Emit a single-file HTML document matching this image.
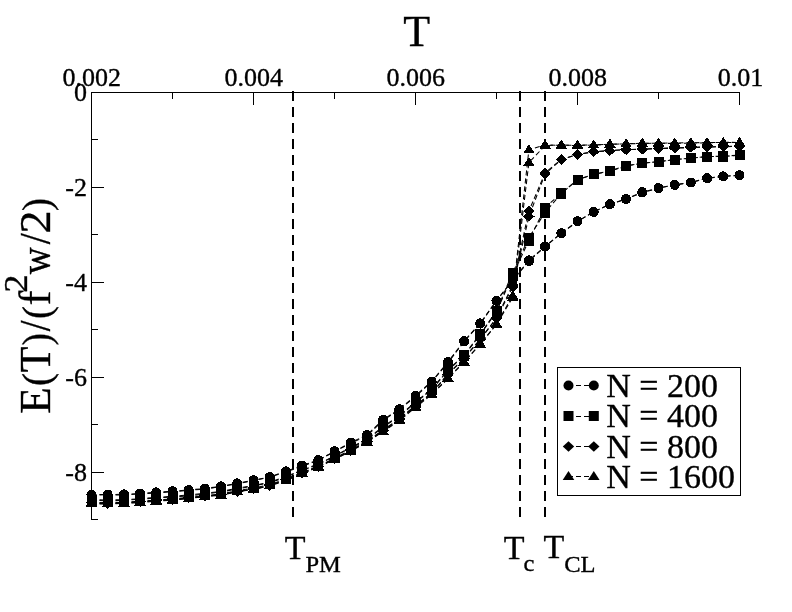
<!DOCTYPE html>
<html><head><meta charset="utf-8"><title>E(T)</title>
<style>html,body{margin:0;padding:0;background:#fff}svg{display:block;filter:grayscale(1)}text{font-family:"Liberation Serif",serif;fill:#000;stroke:#000;stroke-width:0.35px}</style></head><body>
<svg width="792" height="612" viewBox="0 0 792 612">
<rect x="0" y="0" width="792" height="612" fill="#fff"/>
<g stroke="#000" stroke-width="2" stroke-dasharray="10 6" fill="none" shape-rendering="crispEdges">
<line x1="293" y1="91" x2="293" y2="517"/>
<line x1="520" y1="91" x2="520" y2="517"/>
<line x1="545" y1="91" x2="545" y2="517"/>
</g>
<g stroke="#000" stroke-width="1.05" stroke-dasharray="5 3" fill="none">
<polyline points="91.5,494.5 107.7,494.5 123.9,494.3 140.1,493.5 156.3,492.3 172.5,491.3 188.7,490 204.9,488.5 221.1,486.3 237.3,483.3 253.5,480.3 269.7,477 285.9,471.3 302.1,465.5 318.3,460 334.5,451.3 350.7,442.5 366.9,435 383.1,419.7 399.3,409.2 415.5,395.6 431.7,381.5 447.9,362 464.1,341 480.3,323.3 496.5,300.5 512.7,280 528.9,260.3 545.1,246.3 561.3,233.2 577.5,221.3 593.7,211.9 609.9,204.2 626.1,199.2 642.3,192.5 658.5,188.3 674.7,184.7 690.9,182.5 707.1,178.3 723.3,176.3 739.5,175.3"/>
<polyline points="91.5,494.96 107.7,494.82 123.9,495.02 140.1,493.76 156.3,492.93 172.5,491.79 188.7,490.25 204.9,489.11 221.1,486.53 237.3,483.85 253.5,480.56 269.7,477.27 285.9,471.84 302.1,466.36 318.3,460.3 334.5,451.68 350.7,443.2 366.9,435.96 383.1,420.36 399.3,409.72 415.5,396.58 431.7,381.74 447.9,362.89 464.1,341.43 480.3,323.62 496.5,300.79 512.7,280.45 528.9,261.15 545.1,246.64 561.3,233.32 577.5,221.48 593.7,211.84 609.9,204.29 626.1,198.86 642.3,192.15 658.5,188.09 674.7,184.91 690.9,182.48 707.1,178.18 723.3,176.43 739.5,175.31"/>
<polyline points="91.5,499.72 107.7,500.02 123.9,499.64 140.1,498.78 156.3,497.34 172.5,496.4 188.7,494.92 204.9,493.3 221.1,491.4 237.3,488.22 253.5,485.52 269.7,482.16 285.9,476.4 302.1,470.12 318.3,464.02 334.5,455.92 350.7,447.42 366.9,439.08 383.1,426.6 399.3,415.56 415.5,402.14 431.7,389 447.9,370 464.1,355 480.3,334 496.5,311 512.7,272.5 528.9,237.5 545.1,212.5 561.3,193.5 577.5,179.6 593.7,174.2 609.9,170.8 626.1,165.8 642.3,163.3 658.5,161.7 674.7,159.5 690.9,158.3 707.1,156.5 723.3,156.5 739.5,155.3"/>
<polyline points="91.5,500.16 107.7,500.86 123.9,500.4 140.1,499.18 156.3,498 172.5,497.02 188.7,495.82 204.9,494.08 221.1,491.83 237.3,489.2 253.5,485.81 269.7,482.69 285.9,477.21 302.1,470.44 318.3,464.61 334.5,456.15 350.7,448.15 366.9,439.89 383.1,427.26 399.3,416.46 415.5,402.59 431.7,389.76 447.9,370.68 464.1,355.66 480.3,334.56 496.5,311.87 512.7,275 528.9,240.5 545.1,207.5 561.3,193.15 577.5,179.83 593.7,174.38 609.9,171.29 626.1,166.14 642.3,163.16 658.5,161.65 674.7,159.7 690.9,157.92 707.1,156.52 723.3,156.25 739.5,155.01"/>
<polyline points="91.5,502.33 107.7,502.78 123.9,502.31 140.1,501.42 156.3,499.86 172.5,498.95 188.7,497.38 204.9,495.7 221.1,493.95 237.3,490.68 253.5,488.13 269.7,484.74 285.9,478.95 302.1,472.43 318.3,466.03 334.5,458.23 350.7,449.88 366.9,441.12 383.1,430.05 399.3,418.74 415.5,405.41 431.7,392.75 447.9,374 464.1,358 480.3,339 496.5,318 512.7,285 528.9,211 545.1,172.8 561.3,159.4 577.5,154.4 593.7,151.7 609.9,150.5 626.1,149.8 642.3,149 658.5,148.3 674.7,147.8 690.9,147.3 707.1,147 723.3,146.7 739.5,146.3"/>
<polyline points="91.5,502.58 107.7,503.59 123.9,502.61 140.1,501.82 156.3,500.37 172.5,499.85 188.7,497.64 204.9,496.26 221.1,494.59 237.3,491.59 253.5,488.99 269.7,485.63 285.9,479.37 302.1,472.96 318.3,466.52 334.5,459.14 350.7,450.85 366.9,441.44 383.1,430.39 399.3,419.13 415.5,405.8 431.7,393.34 447.9,374.67 464.1,358.41 480.3,339.2 496.5,318.54 512.7,287 528.9,216.5 545.1,174 561.3,159.62 577.5,154.46 593.7,151.86 609.9,150.71 626.1,149.45 642.3,149.41 658.5,148.6 674.7,148.19 690.9,147.62 707.1,146.95 723.3,146.66 739.5,145.99"/>
<polyline points="91.5,503.2 107.7,503.7 123.9,503.2 140.1,502.3 156.3,500.7 172.5,499.8 188.7,498.2 204.9,496.5 221.1,494.8 237.3,491.5 253.5,489 269.7,485.6 285.9,479.8 302.1,473.2 318.3,466.7 334.5,459 350.7,450.7 366.9,441.8 383.1,431.2 399.3,419.8 415.5,406.5 431.7,394 447.9,378.2 464.1,361.8 480.3,344 496.5,324 512.7,295.7 528.9,149.8 545.1,144.9 561.3,145.4 577.5,145.2 593.7,144.9 609.9,144.4 626.1,143.8 642.3,143.5 658.5,143.2 674.7,143 690.9,142.7 707.1,142.6 723.3,142.5 739.5,142.5"/>
<polyline points="91.5,503.91 107.7,503.95 123.9,503.45 140.1,502.67 156.3,501.03 172.5,500.27 188.7,498.44 204.9,496.7 221.1,495.12 237.3,491.78 253.5,489.49 269.7,485.82 285.9,480.7 302.1,473.89 318.3,467.02 334.5,459.4 350.7,451.18 366.9,442.29 383.1,431.5 399.3,420.68 415.5,407.49 431.7,394.57 447.9,378.79 464.1,362.07 480.3,344.28 496.5,324.47 512.7,297.5 528.9,162.5 545.1,145.6 561.3,145.02 577.5,145.66 593.7,144.98 609.9,144.13 626.1,143.89 642.3,143.12 658.5,143.28 674.7,143.48 690.9,143.08 707.1,142.83 723.3,142.34 739.5,142.43"/>
</g>
<g fill="#000" stroke="none" shape-rendering="crispEdges">
<circle cx="91.5" cy="494.5" r="5"/>
<circle cx="107.7" cy="494.5" r="5"/>
<circle cx="123.9" cy="494.3" r="5"/>
<circle cx="140.1" cy="493.5" r="5"/>
<circle cx="156.3" cy="492.3" r="5"/>
<circle cx="172.5" cy="491.3" r="5"/>
<circle cx="188.7" cy="490" r="5"/>
<circle cx="204.9" cy="488.5" r="5"/>
<circle cx="221.1" cy="486.3" r="5"/>
<circle cx="237.3" cy="483.3" r="5"/>
<circle cx="253.5" cy="480.3" r="5"/>
<circle cx="269.7" cy="477" r="5"/>
<circle cx="285.9" cy="471.3" r="5"/>
<circle cx="302.1" cy="465.5" r="5"/>
<circle cx="318.3" cy="460" r="5"/>
<circle cx="334.5" cy="451.3" r="5"/>
<circle cx="350.7" cy="442.5" r="5"/>
<circle cx="366.9" cy="435" r="5"/>
<circle cx="383.1" cy="419.7" r="5"/>
<circle cx="399.3" cy="409.2" r="5"/>
<circle cx="415.5" cy="395.6" r="5"/>
<circle cx="431.7" cy="381.5" r="5"/>
<circle cx="447.9" cy="362" r="5"/>
<circle cx="464.1" cy="341" r="5"/>
<circle cx="480.3" cy="323.3" r="5"/>
<circle cx="496.5" cy="300.5" r="5"/>
<circle cx="512.7" cy="280" r="5"/>
<circle cx="528.9" cy="260.3" r="5"/>
<circle cx="545.1" cy="246.3" r="5"/>
<circle cx="561.3" cy="233.2" r="5"/>
<circle cx="577.5" cy="221.3" r="5"/>
<circle cx="593.7" cy="211.9" r="5"/>
<circle cx="609.9" cy="204.2" r="5"/>
<circle cx="626.1" cy="199.2" r="5"/>
<circle cx="642.3" cy="192.5" r="5"/>
<circle cx="658.5" cy="188.3" r="5"/>
<circle cx="674.7" cy="184.7" r="5"/>
<circle cx="690.9" cy="182.5" r="5"/>
<circle cx="707.1" cy="178.3" r="5"/>
<circle cx="723.3" cy="176.3" r="5"/>
<circle cx="739.5" cy="175.3" r="5"/>
<circle cx="91.5" cy="494.96" r="5"/>
<circle cx="107.7" cy="494.82" r="5"/>
<circle cx="123.9" cy="495.02" r="5"/>
<circle cx="140.1" cy="493.76" r="5"/>
<circle cx="156.3" cy="492.93" r="5"/>
<circle cx="172.5" cy="491.79" r="5"/>
<circle cx="188.7" cy="490.25" r="5"/>
<circle cx="204.9" cy="489.11" r="5"/>
<circle cx="221.1" cy="486.53" r="5"/>
<circle cx="237.3" cy="483.85" r="5"/>
<circle cx="253.5" cy="480.56" r="5"/>
<circle cx="269.7" cy="477.27" r="5"/>
<circle cx="285.9" cy="471.84" r="5"/>
<circle cx="302.1" cy="466.36" r="5"/>
<circle cx="318.3" cy="460.3" r="5"/>
<circle cx="334.5" cy="451.68" r="5"/>
<circle cx="350.7" cy="443.2" r="5"/>
<circle cx="366.9" cy="435.96" r="5"/>
<circle cx="383.1" cy="420.36" r="5"/>
<circle cx="399.3" cy="409.72" r="5"/>
<circle cx="415.5" cy="396.58" r="5"/>
<circle cx="431.7" cy="381.74" r="5"/>
<circle cx="447.9" cy="362.89" r="5"/>
<circle cx="464.1" cy="341.43" r="5"/>
<circle cx="480.3" cy="323.62" r="5"/>
<circle cx="496.5" cy="300.79" r="5"/>
<circle cx="512.7" cy="280.45" r="5"/>
<circle cx="528.9" cy="261.15" r="5"/>
<circle cx="545.1" cy="246.64" r="5"/>
<circle cx="561.3" cy="233.32" r="5"/>
<circle cx="577.5" cy="221.48" r="5"/>
<circle cx="593.7" cy="211.84" r="5"/>
<circle cx="609.9" cy="204.29" r="5"/>
<circle cx="626.1" cy="198.86" r="5"/>
<circle cx="642.3" cy="192.15" r="5"/>
<circle cx="658.5" cy="188.09" r="5"/>
<circle cx="674.7" cy="184.91" r="5"/>
<circle cx="690.9" cy="182.48" r="5"/>
<circle cx="707.1" cy="178.18" r="5"/>
<circle cx="723.3" cy="176.43" r="5"/>
<circle cx="739.5" cy="175.31" r="5"/>
<rect x="86.5" y="494.72" width="10" height="10"/>
<rect x="102.7" y="495.02" width="10" height="10"/>
<rect x="118.9" y="494.64" width="10" height="10"/>
<rect x="135.1" y="493.78" width="10" height="10"/>
<rect x="151.3" y="492.34" width="10" height="10"/>
<rect x="167.5" y="491.4" width="10" height="10"/>
<rect x="183.7" y="489.92" width="10" height="10"/>
<rect x="199.9" y="488.3" width="10" height="10"/>
<rect x="216.1" y="486.4" width="10" height="10"/>
<rect x="232.3" y="483.22" width="10" height="10"/>
<rect x="248.5" y="480.52" width="10" height="10"/>
<rect x="264.7" y="477.16" width="10" height="10"/>
<rect x="280.9" y="471.4" width="10" height="10"/>
<rect x="297.1" y="465.12" width="10" height="10"/>
<rect x="313.3" y="459.02" width="10" height="10"/>
<rect x="329.5" y="450.92" width="10" height="10"/>
<rect x="345.7" y="442.42" width="10" height="10"/>
<rect x="361.9" y="434.08" width="10" height="10"/>
<rect x="378.1" y="421.6" width="10" height="10"/>
<rect x="394.3" y="410.56" width="10" height="10"/>
<rect x="410.5" y="397.14" width="10" height="10"/>
<rect x="426.7" y="384" width="10" height="10"/>
<rect x="442.9" y="365" width="10" height="10"/>
<rect x="459.1" y="350" width="10" height="10"/>
<rect x="475.3" y="329" width="10" height="10"/>
<rect x="491.5" y="306" width="10" height="10"/>
<rect x="507.7" y="267.5" width="10" height="10"/>
<rect x="523.9" y="232.5" width="10" height="10"/>
<rect x="540.1" y="207.5" width="10" height="10"/>
<rect x="556.3" y="188.5" width="10" height="10"/>
<rect x="572.5" y="174.6" width="10" height="10"/>
<rect x="588.7" y="169.2" width="10" height="10"/>
<rect x="604.9" y="165.8" width="10" height="10"/>
<rect x="621.1" y="160.8" width="10" height="10"/>
<rect x="637.3" y="158.3" width="10" height="10"/>
<rect x="653.5" y="156.7" width="10" height="10"/>
<rect x="669.7" y="154.5" width="10" height="10"/>
<rect x="685.9" y="153.3" width="10" height="10"/>
<rect x="702.1" y="151.5" width="10" height="10"/>
<rect x="718.3" y="151.5" width="10" height="10"/>
<rect x="734.5" y="150.3" width="10" height="10"/>
<rect x="86.5" y="495.16" width="10" height="10"/>
<rect x="102.7" y="495.86" width="10" height="10"/>
<rect x="118.9" y="495.4" width="10" height="10"/>
<rect x="135.1" y="494.18" width="10" height="10"/>
<rect x="151.3" y="493" width="10" height="10"/>
<rect x="167.5" y="492.02" width="10" height="10"/>
<rect x="183.7" y="490.82" width="10" height="10"/>
<rect x="199.9" y="489.08" width="10" height="10"/>
<rect x="216.1" y="486.83" width="10" height="10"/>
<rect x="232.3" y="484.2" width="10" height="10"/>
<rect x="248.5" y="480.81" width="10" height="10"/>
<rect x="264.7" y="477.69" width="10" height="10"/>
<rect x="280.9" y="472.21" width="10" height="10"/>
<rect x="297.1" y="465.44" width="10" height="10"/>
<rect x="313.3" y="459.61" width="10" height="10"/>
<rect x="329.5" y="451.15" width="10" height="10"/>
<rect x="345.7" y="443.15" width="10" height="10"/>
<rect x="361.9" y="434.89" width="10" height="10"/>
<rect x="378.1" y="422.26" width="10" height="10"/>
<rect x="394.3" y="411.46" width="10" height="10"/>
<rect x="410.5" y="397.59" width="10" height="10"/>
<rect x="426.7" y="384.76" width="10" height="10"/>
<rect x="442.9" y="365.68" width="10" height="10"/>
<rect x="459.1" y="350.66" width="10" height="10"/>
<rect x="475.3" y="329.56" width="10" height="10"/>
<rect x="491.5" y="306.87" width="10" height="10"/>
<rect x="507.7" y="270" width="10" height="10"/>
<rect x="523.9" y="235.5" width="10" height="10"/>
<rect x="540.1" y="202.5" width="10" height="10"/>
<rect x="556.3" y="188.15" width="10" height="10"/>
<rect x="572.5" y="174.83" width="10" height="10"/>
<rect x="588.7" y="169.38" width="10" height="10"/>
<rect x="604.9" y="166.29" width="10" height="10"/>
<rect x="621.1" y="161.14" width="10" height="10"/>
<rect x="637.3" y="158.16" width="10" height="10"/>
<rect x="653.5" y="156.65" width="10" height="10"/>
<rect x="669.7" y="154.7" width="10" height="10"/>
<rect x="685.9" y="152.92" width="10" height="10"/>
<rect x="702.1" y="151.52" width="10" height="10"/>
<rect x="718.3" y="151.25" width="10" height="10"/>
<rect x="734.5" y="150.01" width="10" height="10"/>
<path d="M91.5 497.13L97.2 502.33L91.5 507.53L85.8 502.33Z"/>
<path d="M107.7 497.58L113.4 502.78L107.7 507.98L102 502.78Z"/>
<path d="M123.9 497.11L129.6 502.31L123.9 507.51L118.2 502.31Z"/>
<path d="M140.1 496.22L145.8 501.42L140.1 506.62L134.4 501.42Z"/>
<path d="M156.3 494.66L162 499.86L156.3 505.06L150.6 499.86Z"/>
<path d="M172.5 493.75L178.2 498.95L172.5 504.15L166.8 498.95Z"/>
<path d="M188.7 492.18L194.4 497.38L188.7 502.58L183 497.38Z"/>
<path d="M204.9 490.5L210.6 495.7L204.9 500.9L199.2 495.7Z"/>
<path d="M221.1 488.75L226.8 493.95L221.1 499.15L215.4 493.95Z"/>
<path d="M237.3 485.48L243 490.68L237.3 495.88L231.6 490.68Z"/>
<path d="M253.5 482.93L259.2 488.13L253.5 493.33L247.8 488.13Z"/>
<path d="M269.7 479.54L275.4 484.74L269.7 489.94L264 484.74Z"/>
<path d="M285.9 473.75L291.6 478.95L285.9 484.15L280.2 478.95Z"/>
<path d="M302.1 467.23L307.8 472.43L302.1 477.63L296.4 472.43Z"/>
<path d="M318.3 460.83L324 466.03L318.3 471.23L312.6 466.03Z"/>
<path d="M334.5 453.03L340.2 458.23L334.5 463.43L328.8 458.23Z"/>
<path d="M350.7 444.68L356.4 449.88L350.7 455.08L345 449.88Z"/>
<path d="M366.9 435.92L372.6 441.12L366.9 446.32L361.2 441.12Z"/>
<path d="M383.1 424.85L388.8 430.05L383.1 435.25L377.4 430.05Z"/>
<path d="M399.3 413.54L405 418.74L399.3 423.94L393.6 418.74Z"/>
<path d="M415.5 400.21L421.2 405.41L415.5 410.61L409.8 405.41Z"/>
<path d="M431.7 387.55L437.4 392.75L431.7 397.95L426 392.75Z"/>
<path d="M447.9 368.8L453.6 374L447.9 379.2L442.2 374Z"/>
<path d="M464.1 352.8L469.8 358L464.1 363.2L458.4 358Z"/>
<path d="M480.3 333.8L486 339L480.3 344.2L474.6 339Z"/>
<path d="M496.5 312.8L502.2 318L496.5 323.2L490.8 318Z"/>
<path d="M512.7 279.8L518.4 285L512.7 290.2L507 285Z"/>
<path d="M528.9 205.8L534.6 211L528.9 216.2L523.2 211Z"/>
<path d="M545.1 167.6L550.8 172.8L545.1 178L539.4 172.8Z"/>
<path d="M561.3 154.2L567 159.4L561.3 164.6L555.6 159.4Z"/>
<path d="M577.5 149.2L583.2 154.4L577.5 159.6L571.8 154.4Z"/>
<path d="M593.7 146.5L599.4 151.7L593.7 156.9L588 151.7Z"/>
<path d="M609.9 145.3L615.6 150.5L609.9 155.7L604.2 150.5Z"/>
<path d="M626.1 144.6L631.8 149.8L626.1 155L620.4 149.8Z"/>
<path d="M642.3 143.8L648 149L642.3 154.2L636.6 149Z"/>
<path d="M658.5 143.1L664.2 148.3L658.5 153.5L652.8 148.3Z"/>
<path d="M674.7 142.6L680.4 147.8L674.7 153L669 147.8Z"/>
<path d="M690.9 142.1L696.6 147.3L690.9 152.5L685.2 147.3Z"/>
<path d="M707.1 141.8L712.8 147L707.1 152.2L701.4 147Z"/>
<path d="M723.3 141.5L729 146.7L723.3 151.9L717.6 146.7Z"/>
<path d="M739.5 141.1L745.2 146.3L739.5 151.5L733.8 146.3Z"/>
<path d="M91.5 497.38L97.2 502.58L91.5 507.78L85.8 502.58Z"/>
<path d="M107.7 498.39L113.4 503.59L107.7 508.79L102 503.59Z"/>
<path d="M123.9 497.41L129.6 502.61L123.9 507.81L118.2 502.61Z"/>
<path d="M140.1 496.62L145.8 501.82L140.1 507.02L134.4 501.82Z"/>
<path d="M156.3 495.17L162 500.37L156.3 505.57L150.6 500.37Z"/>
<path d="M172.5 494.65L178.2 499.85L172.5 505.05L166.8 499.85Z"/>
<path d="M188.7 492.44L194.4 497.64L188.7 502.84L183 497.64Z"/>
<path d="M204.9 491.06L210.6 496.26L204.9 501.46L199.2 496.26Z"/>
<path d="M221.1 489.39L226.8 494.59L221.1 499.79L215.4 494.59Z"/>
<path d="M237.3 486.39L243 491.59L237.3 496.79L231.6 491.59Z"/>
<path d="M253.5 483.79L259.2 488.99L253.5 494.19L247.8 488.99Z"/>
<path d="M269.7 480.43L275.4 485.63L269.7 490.83L264 485.63Z"/>
<path d="M285.9 474.17L291.6 479.37L285.9 484.57L280.2 479.37Z"/>
<path d="M302.1 467.76L307.8 472.96L302.1 478.16L296.4 472.96Z"/>
<path d="M318.3 461.32L324 466.52L318.3 471.72L312.6 466.52Z"/>
<path d="M334.5 453.94L340.2 459.14L334.5 464.34L328.8 459.14Z"/>
<path d="M350.7 445.65L356.4 450.85L350.7 456.05L345 450.85Z"/>
<path d="M366.9 436.24L372.6 441.44L366.9 446.64L361.2 441.44Z"/>
<path d="M383.1 425.19L388.8 430.39L383.1 435.59L377.4 430.39Z"/>
<path d="M399.3 413.93L405 419.13L399.3 424.33L393.6 419.13Z"/>
<path d="M415.5 400.6L421.2 405.8L415.5 411L409.8 405.8Z"/>
<path d="M431.7 388.14L437.4 393.34L431.7 398.54L426 393.34Z"/>
<path d="M447.9 369.47L453.6 374.67L447.9 379.87L442.2 374.67Z"/>
<path d="M464.1 353.21L469.8 358.41L464.1 363.61L458.4 358.41Z"/>
<path d="M480.3 334L486 339.2L480.3 344.4L474.6 339.2Z"/>
<path d="M496.5 313.34L502.2 318.54L496.5 323.74L490.8 318.54Z"/>
<path d="M512.7 281.8L518.4 287L512.7 292.2L507 287Z"/>
<path d="M528.9 211.3L534.6 216.5L528.9 221.7L523.2 216.5Z"/>
<path d="M545.1 168.8L550.8 174L545.1 179.2L539.4 174Z"/>
<path d="M561.3 154.42L567 159.62L561.3 164.82L555.6 159.62Z"/>
<path d="M577.5 149.26L583.2 154.46L577.5 159.66L571.8 154.46Z"/>
<path d="M593.7 146.66L599.4 151.86L593.7 157.06L588 151.86Z"/>
<path d="M609.9 145.51L615.6 150.71L609.9 155.91L604.2 150.71Z"/>
<path d="M626.1 144.25L631.8 149.45L626.1 154.65L620.4 149.45Z"/>
<path d="M642.3 144.21L648 149.41L642.3 154.61L636.6 149.41Z"/>
<path d="M658.5 143.4L664.2 148.6L658.5 153.8L652.8 148.6Z"/>
<path d="M674.7 142.99L680.4 148.19L674.7 153.39L669 148.19Z"/>
<path d="M690.9 142.42L696.6 147.62L690.9 152.82L685.2 147.62Z"/>
<path d="M707.1 141.75L712.8 146.95L707.1 152.15L701.4 146.95Z"/>
<path d="M723.3 141.46L729 146.66L723.3 151.86L717.6 146.66Z"/>
<path d="M739.5 140.79L745.2 145.99L739.5 151.19L733.8 145.99Z"/>
<path d="M91.5 497.6L97.3 506.7L85.7 506.7Z"/>
<path d="M107.7 498.1L113.5 507.2L101.9 507.2Z"/>
<path d="M123.9 497.6L129.7 506.7L118.1 506.7Z"/>
<path d="M140.1 496.7L145.9 505.8L134.3 505.8Z"/>
<path d="M156.3 495.1L162.1 504.2L150.5 504.2Z"/>
<path d="M172.5 494.2L178.3 503.3L166.7 503.3Z"/>
<path d="M188.7 492.6L194.5 501.7L182.9 501.7Z"/>
<path d="M204.9 490.9L210.7 500L199.1 500Z"/>
<path d="M221.1 489.2L226.9 498.3L215.3 498.3Z"/>
<path d="M237.3 485.9L243.1 495L231.5 495Z"/>
<path d="M253.5 483.4L259.3 492.5L247.7 492.5Z"/>
<path d="M269.7 480L275.5 489.1L263.9 489.1Z"/>
<path d="M285.9 474.2L291.7 483.3L280.1 483.3Z"/>
<path d="M302.1 467.6L307.9 476.7L296.3 476.7Z"/>
<path d="M318.3 461.1L324.1 470.2L312.5 470.2Z"/>
<path d="M334.5 453.4L340.3 462.5L328.7 462.5Z"/>
<path d="M350.7 445.1L356.5 454.2L344.9 454.2Z"/>
<path d="M366.9 436.2L372.7 445.3L361.1 445.3Z"/>
<path d="M383.1 425.6L388.9 434.7L377.3 434.7Z"/>
<path d="M399.3 414.2L405.1 423.3L393.5 423.3Z"/>
<path d="M415.5 400.9L421.3 410L409.7 410Z"/>
<path d="M431.7 388.4L437.5 397.5L425.9 397.5Z"/>
<path d="M447.9 372.6L453.7 381.7L442.1 381.7Z"/>
<path d="M464.1 356.2L469.9 365.3L458.3 365.3Z"/>
<path d="M480.3 338.4L486.1 347.5L474.5 347.5Z"/>
<path d="M496.5 318.4L502.3 327.5L490.7 327.5Z"/>
<path d="M512.7 290.1L518.5 299.2L506.9 299.2Z"/>
<path d="M528.9 144.2L534.7 153.3L523.1 153.3Z"/>
<path d="M545.1 139.3L550.9 148.4L539.3 148.4Z"/>
<path d="M561.3 139.8L567.1 148.9L555.5 148.9Z"/>
<path d="M577.5 139.6L583.3 148.7L571.7 148.7Z"/>
<path d="M593.7 139.3L599.5 148.4L587.9 148.4Z"/>
<path d="M609.9 138.8L615.7 147.9L604.1 147.9Z"/>
<path d="M626.1 138.2L631.9 147.3L620.3 147.3Z"/>
<path d="M642.3 137.9L648.1 147L636.5 147Z"/>
<path d="M658.5 137.6L664.3 146.7L652.7 146.7Z"/>
<path d="M674.7 137.4L680.5 146.5L668.9 146.5Z"/>
<path d="M690.9 137.1L696.7 146.2L685.1 146.2Z"/>
<path d="M707.1 137L712.9 146.1L701.3 146.1Z"/>
<path d="M723.3 136.9L729.1 146L717.5 146Z"/>
<path d="M739.5 136.9L745.3 146L733.7 146Z"/>
<path d="M91.5 498.31L97.3 507.41L85.7 507.41Z"/>
<path d="M107.7 498.35L113.5 507.45L101.9 507.45Z"/>
<path d="M123.9 497.85L129.7 506.95L118.1 506.95Z"/>
<path d="M140.1 497.07L145.9 506.17L134.3 506.17Z"/>
<path d="M156.3 495.43L162.1 504.53L150.5 504.53Z"/>
<path d="M172.5 494.67L178.3 503.77L166.7 503.77Z"/>
<path d="M188.7 492.84L194.5 501.94L182.9 501.94Z"/>
<path d="M204.9 491.1L210.7 500.2L199.1 500.2Z"/>
<path d="M221.1 489.52L226.9 498.62L215.3 498.62Z"/>
<path d="M237.3 486.18L243.1 495.28L231.5 495.28Z"/>
<path d="M253.5 483.89L259.3 492.99L247.7 492.99Z"/>
<path d="M269.7 480.22L275.5 489.32L263.9 489.32Z"/>
<path d="M285.9 475.1L291.7 484.2L280.1 484.2Z"/>
<path d="M302.1 468.29L307.9 477.39L296.3 477.39Z"/>
<path d="M318.3 461.42L324.1 470.52L312.5 470.52Z"/>
<path d="M334.5 453.8L340.3 462.9L328.7 462.9Z"/>
<path d="M350.7 445.58L356.5 454.68L344.9 454.68Z"/>
<path d="M366.9 436.69L372.7 445.79L361.1 445.79Z"/>
<path d="M383.1 425.9L388.9 435L377.3 435Z"/>
<path d="M399.3 415.08L405.1 424.18L393.5 424.18Z"/>
<path d="M415.5 401.89L421.3 410.99L409.7 410.99Z"/>
<path d="M431.7 388.97L437.5 398.07L425.9 398.07Z"/>
<path d="M447.9 373.19L453.7 382.29L442.1 382.29Z"/>
<path d="M464.1 356.47L469.9 365.57L458.3 365.57Z"/>
<path d="M480.3 338.68L486.1 347.78L474.5 347.78Z"/>
<path d="M496.5 318.87L502.3 327.97L490.7 327.97Z"/>
<path d="M512.7 291.9L518.5 301L506.9 301Z"/>
<path d="M528.9 156.9L534.7 166L523.1 166Z"/>
<path d="M545.1 140L550.9 149.1L539.3 149.1Z"/>
<path d="M561.3 139.42L567.1 148.52L555.5 148.52Z"/>
<path d="M577.5 140.06L583.3 149.16L571.7 149.16Z"/>
<path d="M593.7 139.38L599.5 148.48L587.9 148.48Z"/>
<path d="M609.9 138.53L615.7 147.63L604.1 147.63Z"/>
<path d="M626.1 138.29L631.9 147.39L620.3 147.39Z"/>
<path d="M642.3 137.52L648.1 146.62L636.5 146.62Z"/>
<path d="M658.5 137.68L664.3 146.78L652.7 146.78Z"/>
<path d="M674.7 137.88L680.5 146.98L668.9 146.98Z"/>
<path d="M690.9 137.48L696.7 146.58L685.1 146.58Z"/>
<path d="M707.1 137.23L712.9 146.33L701.3 146.33Z"/>
<path d="M723.3 136.74L729.1 145.84L717.5 145.84Z"/>
<path d="M739.5 136.83L745.3 145.93L733.7 145.93Z"/>
</g>
<g stroke="#000" stroke-width="1" fill="none" stroke-linecap="butt" shape-rendering="crispEdges">
<path d="M91.5 520L91.5 92.5L740 92.5"/>
<line x1="91.5" y1="92.5" x2="91.5" y2="105"/>
<line x1="172.5" y1="92.5" x2="172.5" y2="99"/>
<line x1="253.5" y1="92.5" x2="253.5" y2="105"/>
<line x1="334.5" y1="92.5" x2="334.5" y2="99"/>
<line x1="415.5" y1="92.5" x2="415.5" y2="105"/>
<line x1="496.5" y1="92.5" x2="496.5" y2="99"/>
<line x1="577.5" y1="92.5" x2="577.5" y2="105"/>
<line x1="658.5" y1="92.5" x2="658.5" y2="99"/>
<line x1="739.5" y1="92.5" x2="739.5" y2="105"/>
<line x1="91.5" y1="92.5" x2="104" y2="92.5"/>
<line x1="91.5" y1="139.5" x2="98" y2="139.5"/>
<line x1="91.5" y1="187.5" x2="104" y2="187.5"/>
<line x1="91.5" y1="234.5" x2="98" y2="234.5"/>
<line x1="91.5" y1="282.5" x2="104" y2="282.5"/>
<line x1="91.5" y1="329.5" x2="98" y2="329.5"/>
<line x1="91.5" y1="377.5" x2="104" y2="377.5"/>
<line x1="91.5" y1="424.5" x2="98" y2="424.5"/>
<line x1="91.5" y1="472.5" x2="104" y2="472.5"/>
<line x1="91.5" y1="519.5" x2="98" y2="519.5"/>
</g>
<g font-size="26" text-anchor="middle">
<text x="91.7" y="85.6">0.002</text>
<text x="253.7" y="85.6">0.004</text>
<text x="415.7" y="85.6">0.006</text>
<text x="577.7" y="85.6">0.008</text>
<text x="740.5" y="85.6">0.01</text>
</g>
<g font-size="26" text-anchor="end">
<text x="87.0" y="101.2">0</text>
<text x="87.0" y="196.09">-2</text>
<text x="87.0" y="290.98">-4</text>
<text x="87.0" y="385.87">-6</text>
<text x="87.0" y="480.76">-8</text>
</g>
<text x="416.6" y="46.4" font-size="44" text-anchor="middle">T</text>
<text transform="translate(50 413.71) rotate(-90) scale(0.9758 1)" font-size="44.5">E</text>
<text transform="translate(50 385.98) rotate(-90) scale(0.8831 0.9)" font-size="44.5">(</text>
<text transform="translate(50 372.31) rotate(-90) scale(0.9441 1)" font-size="44.5">T</text>
<text transform="translate(50 345.45) rotate(-90) scale(0.8394 0.9)" font-size="44.5">)</text>
<text transform="translate(50 331.25) rotate(-90) scale(0.8730 1)" font-size="44.5">/</text>
<text transform="translate(50 318.96) rotate(-90) scale(0.8744 0.9)" font-size="44.5">(</text>
<text transform="translate(50 305.54) rotate(-90) scale(1.0045 1)" font-size="44.5">f</text>
<text transform="translate(27 292.86) rotate(-90) scale(1.0943 1)" font-size="33.5">2</text>
<text transform="translate(50 274.19) rotate(-90) scale(0.8400 1)" font-size="44.5">w</text>
<text transform="translate(50 244.25) rotate(-90) scale(0.8973 1)" font-size="44.5">/</text>
<text transform="translate(50 233.48) rotate(-90) scale(1.0367 1)" font-size="44.5">2</text>
<text transform="translate(50 211.11) rotate(-90) scale(0.8831 0.9)" font-size="44.5">)</text>
<text x="284.7" y="559.2" font-size="34">T</text>
<text transform="translate(305.4 571.7) scale(1.075 1)" font-size="22.8">PM</text>
<text x="503.7" y="558.8" font-size="34">T</text>
<text transform="translate(523.6 571.3) scale(1.075 1)" font-size="22.8">c</text>
<text x="543.6" y="558.2" font-size="34">T</text>
<text transform="translate(564.2 571.5) scale(1.075 1)" font-size="22.8">CL</text>
<rect x="557.5" y="367.5" width="183" height="128" fill="#fff" stroke="#000" stroke-width="1" shape-rendering="crispEdges"/>
<g stroke="#000" stroke-width="1" stroke-dasharray="5 3" fill="none" shape-rendering="crispEdges">
<line x1="568" y1="385.5" x2="594" y2="385.5"/>
<line x1="568" y1="416.5" x2="594" y2="416.5"/>
<line x1="568" y1="446.5" x2="594" y2="446.5"/>
<line x1="568" y1="476.5" x2="594" y2="476.5"/>
</g>
<g fill="#000">
<circle cx="568.5" cy="385.5" r="5"/>
<circle cx="593.8" cy="385.5" r="5"/>
<rect x="563.5" y="411" width="10" height="10"/>
<rect x="588.8" y="411" width="10" height="10"/>
<path d="M568.5 441.3L574.2 446.5L568.5 451.7L562.8 446.5Z"/>
<path d="M593.8 441.3L599.5 446.5L593.8 451.7L588.1 446.5Z"/>
<path d="M568.5 470.9L574.3 480L562.7 480Z"/>
<path d="M593.8 470.9L599.6 480L588 480Z"/>
</g>
<g font-size="34">
<text x="606.3" y="397">N = 200</text>
<text x="606.3" y="427.2">N = 400</text>
<text x="606.3" y="457.6">N = 800</text>
<text x="606.3" y="488.3">N = 1600</text>
</g>
</svg></body></html>
